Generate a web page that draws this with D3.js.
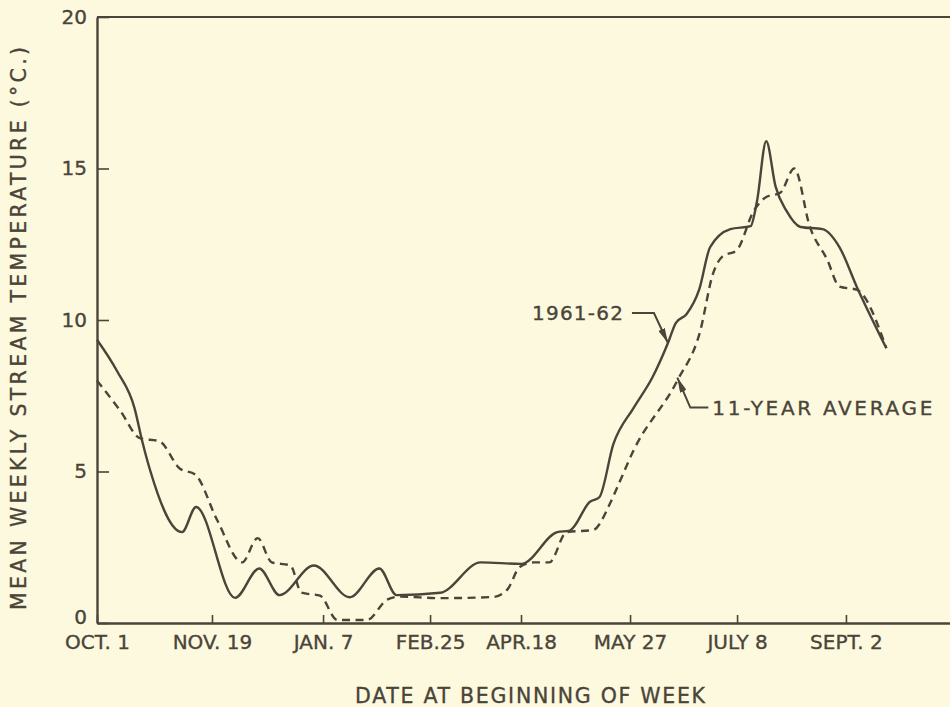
<!DOCTYPE html>
<html><head><meta charset="utf-8">
<script src="https://cdn.jsdelivr.net/npm/d3@7"></script>
<style>
html,body{margin:0;padding:0;background:#fdf9df;}
svg{display:block;}
text{font-family:"DejaVu Sans",sans-serif;fill:#4a4439;stroke:#4a4439;stroke-width:0.35px;}
</style></head>
<body><svg id="c" width="950" height="707"></svg>
<script>
// ---- data ----
const tickWeeks  = [0, 7.37, 14.49, 21.35, 27.18, 34.17, 41.03, 48.01];
const tickLabels = ["OCT. 1", "NOV. 19", "JAN. 7", "FEB.25", "APR.18", "MAY 27", "JULY 8", "SEPT. 2"];
const yTicks = [0, 5, 10, 15, 20];

const seasonWeeks = [0, 1.3, 2.4, 2.9, 3.4, 5.45, 6.35, 8.85, 10.4, 11.7, 13.9, 16.2, 18.1, 19.2, 22.0, 24.6, 27.2, 29.5, 30.3, 31.6, 32.2, 33.1, 34.4, 35.6, 36.6, 37.1, 37.8, 38.6, 39.3, 40.6, 41.9, 42.3, 42.9, 43.5, 44.2, 45.1, 46.5, 47.6, 48.7, 50.6];
const seasonTemps = [9.35, 8.3, 7.1, 6.0, 5.05, 3.0, 3.83, 0.83, 1.8, 0.92, 1.9, 0.85, 1.8, 0.92, 1.0, 2.0, 1.95, 3.0, 3.05, 4.0, 4.15, 5.9, 7.1, 8.1, 9.24, 9.9, 10.2, 11.0, 12.4, 13.0, 13.1, 13.9, 15.9, 14.4, 13.6, 13.07, 13.0, 12.4, 11.1, 9.07];

const avgWeeks = [0, 1.5, 2.75, 4.0, 5.3, 6.3, 7.7, 9.3, 10.3, 11.2, 12.4, 13.1, 14.3, 15.4, 17.3, 18.6, 19.4, 22.0, 25.4, 26.3, 27.1, 28.0, 29.0, 30.1, 31.8, 32.9, 33.2, 34.4, 37.2, 38.65, 39.5, 40.1, 41.0, 42.1, 42.9, 43.8, 44.7, 45.7, 46.8, 47.6, 48.7, 50.6];
const avgTemps = [8.0, 7.0, 6.1, 6.0, 5.1, 4.9, 3.4, 2.0, 2.8, 2.0, 1.9, 1.0, 0.9, 0.1, 0.1, 0.77, 0.87, 0.82, 0.86, 1.1, 1.85, 2.0, 2.0, 3.0, 3.07, 3.96, 4.3, 5.7, 8.0, 9.6, 11.55, 12.1, 12.3, 13.6, 14.06, 14.2, 15.0, 13.07, 12.0, 11.1, 11.0, 9.07];

const seasonLabel = "1961-62";
const avgLabel = "11-YEAR AVERAGE";
const seasonArrowAt = [36.6, 9.24];
const avgArrowAt = [37.2, 8.1];

// ---- chart ----
const ink = "#4a4439";
const svg = d3.select("#c");
const L = 97, R = 950, T = 17, B = 623;
const x = d3.scaleLinear().domain([0, 54.68]).range([L, R]);
const y = d3.scaleLinear().domain([0, 20]).range([B, T]);

svg.append("defs").append("marker")
  .attr("id","ah").attr("viewBox","0 0 10 10").attr("refX",10).attr("refY",5)
  .attr("markerWidth",15).attr("markerHeight",7).attr("markerUnits","userSpaceOnUse")
  .attr("orient","auto").attr("preserveAspectRatio","none")
  .append("path").attr("d","M0,0 L10,5 L0,10 Z").attr("fill",ink);

// top frame line
svg.append("line").attr("x1",x(0)).attr("x2",R).attr("y1",y(20)).attr("y2",y(20))
  .attr("stroke",ink).attr("stroke-width",2.2);

const xAxis = d3.axisBottom(x).tickValues(tickWeeks)
  .tickFormat((d,i)=>tickLabels[i]).tickSizeInner(-8).tickSizeOuter(0).tickPadding(12);
const gx = svg.append("g").attr("transform",`translate(0,${B})`).call(xAxis);
gx.select(".domain").attr("stroke",ink).attr("stroke-width",2.6);
gx.selectAll(".tick line").attr("stroke",ink).attr("stroke-width",1.6);
gx.selectAll(".tick text").attr("font-size",20).attr("font-family","DejaVu Sans").attr("fill",ink);

const yAxis = d3.axisLeft(y).tickValues(yTicks).tickSizeInner(-12).tickSizeOuter(0).tickPadding(10);
const gy = svg.append("g").attr("transform",`translate(${L},0)`).call(yAxis);
gy.select(".domain").attr("stroke",ink).attr("stroke-width",2.4);
gy.selectAll(".tick line").attr("stroke",ink).attr("stroke-width",1.6);
gy.selectAll(".tick text").attr("font-size",20).attr("font-family","DejaVu Sans").attr("fill",ink)
  .attr("dy", d => d === 0 ? "0.02em" : "0.32em");

// lines
const line = d3.line().x(d=>x(d[0])).y(d=>y(d[1])).curve(d3.curveMonotoneX);
svg.append("path").datum(d3.zip(avgWeeks, avgTemps)).attr("d",line)
  .attr("fill","none").attr("stroke",ink).attr("stroke-width",2.4)
  .attr("stroke-dasharray","8,5.5");
svg.append("path").datum(d3.zip(seasonWeeks, seasonTemps)).attr("d",line)
  .attr("fill","none").attr("stroke",ink).attr("stroke-width",2.4);

// annotations
const sx = x(seasonArrowAt[0]), sy = y(seasonArrowAt[1]);
svg.append("path").attr("d",`M${sx-36},${sy-30} L${sx-14},${sy-30} L${sx},${sy}`)
  .attr("fill","none").attr("stroke",ink).attr("stroke-width",2).attr("marker-end","url(#ah)");
svg.append("text").attr("x",sx-45).attr("y",sy-23).attr("text-anchor","end")
  .attr("font-size",20).attr("textLength",91).attr("lengthAdjust","spacing").text(seasonLabel);

const ax = x(avgArrowAt[0]), ay = y(avgArrowAt[1]);
svg.append("path").attr("d",`M${ax+31},${ay+30} L${ax+13},${ay+30} L${ax},${ay}`)
  .attr("fill","none").attr("stroke",ink).attr("stroke-width",2).attr("marker-end","url(#ah)");
svg.append("text").attr("x",ax+35).attr("y",ay+37)
  .attr("font-size",20).attr("textLength",220).attr("lengthAdjust","spacing").text(avgLabel);

// axis titles
svg.append("text").attr("x",355).attr("y",703)
  .attr("font-size",20.5).attr("textLength",350).attr("lengthAdjust","spacing")
  .text("DATE AT BEGINNING OF WEEK");
svg.append("text").attr("transform","translate(26,610) rotate(-90)")
  .attr("font-size",20.5).attr("textLength",563).attr("lengthAdjust","spacing")
  .text("MEAN WEEKLY STREAM TEMPERATURE (°C.)");
</script></body></html>
